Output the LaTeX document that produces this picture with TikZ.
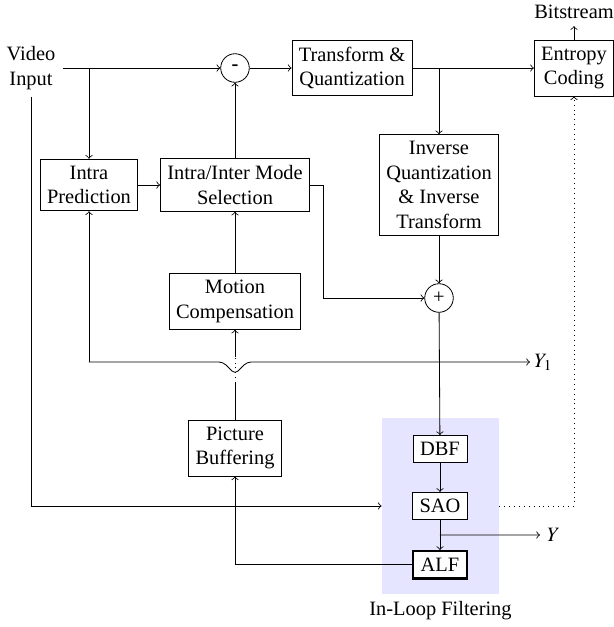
\documentclass[tikz,border=0pt]{standalone}
\usepackage{amsmath}
\usepackage{mathptmx}
\usepackage{fontspec}
\setmainfont{Liberation Serif}
\usepackage{tikz}
\usetikzlibrary{arrows}
\usetikzlibrary{calc}
\usetikzlibrary{positioning}

\begin{document}
\begin{tikzpicture}[x=0.49pt,y=-0.49pt]
                \useasboundingbox (0,0) rectangle (614,627);
                \begin{scope}[thin,block/.style={draw,align=center,fill=white},small block/.style={block,minimum width=26.5pt},sum node/.style={circle,draw,inner sep=0pt,minimum size=14pt}]
                % in-loop filter background
                \node[fill=blue!10,minimum width=57.3pt,minimum height=86.2pt] (filt) at (440.5,506) {};
                \node[below=0pt of filt] (filtlbl) {In-Loop Filtering};
                \node[align=center] (vin) at (31,68) {Video\\Input};
                \node[sum node] (minus) at (235,68) {\textbf{-}};
                \node[block] (tq) at (352,68) {Transform \&\\Quantization};
                \node[block] (ent) at (574,68) {Entropy\\Coding};
                \node (bits) at (574,12) {Bitstream};
                \node[block] (invq) at (439,185) {Inverse\\Quantization\\\& Inverse\\Transform};
                \node[sum node] (plus) at (439,298) {+};
                \node[block] (intra) at (89,185) {Intra\\Prediction};
                \node[block] (mode) at (235,185) {Intra/Inter Mode\\Selection};
                \node[block,below=30pt of mode] (mc) {Motion\\Compensation};
                \node[block] (pb) at (235,448) {Picture\\Buffering};
                \node[small block] (dbf) at (440,449) {DBF};
                \node[small block,below=14.2pt of dbf] (sao) {SAO};
                \node[small block,very thick,below=14.7pt of sao] (alf) {ALF};
                \node[anchor=west,inner sep=2pt] (y1) at (530,362) {$Y_1$};
                \node[anchor=west] (ylbl) at (540,535) {$Y$};
                \coordinate (y1a) at (89,362);
                \coordinate (dipl) at (223,362);
                \coordinate (dipb) at (235,374);
                \coordinate (dipr) at (247,362);
                \coordinate (dota) at (235,357);
                \coordinate (dotb) at (235,383);
                \coordinate (ysplit) at ($(sao.south)!0.5!(alf.north)$);
                % forward path
                \draw[->] (vin.east) -- (minus);
                \draw[->] (minus) -- (tq);
                \draw[->] (tq) -- (ent);
                \draw[->] (ent) -- (bits);
                \draw[->] (intra.north |- minus) -- (intra);
                \draw[->] (invq.north |- tq) -- (invq);
                \draw[->] (intra) -- (mode);
                \draw[->] (mode) -- (minus);
                \draw[->] (mc) -- (mode);
                \draw[->] (mode.east) -- ++(13,0) |- (plus);
                \draw[->] (invq) -- (plus);
                \draw[->] (plus) -- (dbf);
                \draw[->] (dbf) -- (sao);
                \draw[->] (sao) -- (alf);
                \draw[->] (ysplit) -- (ylbl);
                % feedback
                \draw[->] (alf) -| (pb);
                \draw (pb) -- (dotb);
                \draw[dotted] (dotb) -- (dota);
                \draw[->] (dota) -- (mc);
                \draw[->] (y1a) -- (intra);
                \draw[->,rounded corners=2pt] (y1a) -- (dipl) -- (dipb) -- (dipr) -- (y1);
                \draw[->] (vin.south) -- (vin.south |- sao) -- (filt.west |- sao);
                \draw[->,dotted] (filt.east |- sao) -| (ent);
                \end{scope}
\end{tikzpicture}
\end{document}
